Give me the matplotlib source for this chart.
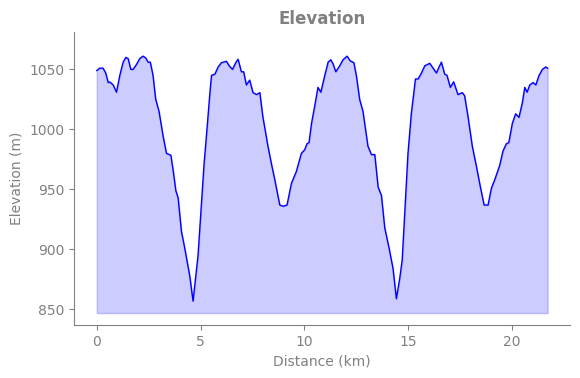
import matplotlib.pyplot as plt
import numpy as np

# distance (km) and elevation (m)
distance = [0.0, 0.14, 0.3, 0.43, 0.55, 0.63, 0.79, 0.95, 1.11, 1.27, 1.4, 1.51, 1.64, 1.75,
            1.91, 2.07, 2.23, 2.36, 2.47, 2.58, 2.71, 2.84, 3.0, 3.2, 3.36, 3.57, 3.68, 3.81,
            3.92, 4.08, 4.24, 4.48, 4.64, 4.88, 5.05, 5.17, 5.32, 5.45, 5.53, 5.69, 5.85,
            6.01, 6.25, 6.38, 6.54, 6.7, 6.81, 6.97, 7.08, 7.21, 7.37, 7.53, 7.7, 7.86, 8.0,
            8.25, 8.41, 8.58, 8.82, 8.98, 9.17, 9.38, 9.62, 9.86, 10.02, 10.13, 10.23, 10.35,
            10.5, 10.66, 10.8, 10.99, 11.15, 11.28, 11.39, 11.52, 11.71, 11.87, 12.06, 12.22,
            12.39, 12.51, 12.67, 12.83, 13.07, 13.24, 13.4, 13.56, 13.72, 13.88, 14.09, 14.28,
            14.44, 14.6, 14.72, 14.84, 15.0, 15.16, 15.36, 15.49, 15.65, 15.81, 16.05, 16.21,
            16.37, 16.5, 16.61, 16.77, 16.88, 17.04, 17.2, 17.41, 17.62, 17.73, 17.89, 18.1,
            18.3, 18.49, 18.67, 18.86, 19.02, 19.18, 19.42, 19.58, 19.74, 19.86, 20.03, 20.19,
            20.35, 20.51, 20.63, 20.74, 20.87, 21.03, 21.16, 21.32, 21.48, 21.64, 21.73]
elevation = [1049, 1051, 1051, 1047, 1039, 1039.5, 1037, 1031, 1045, 1056, 1060, 1059, 1050, 1050,
             1054, 1059, 1061, 1059.5, 1056, 1056, 1045, 1025, 1015, 994, 980, 978.5, 966, 949,
             943, 915, 901, 878, 857, 895, 940, 971, 1002, 1030, 1045, 1046, 1052,
             1055.6, 1056.7, 1053, 1050, 1055.6, 1058.4, 1048, 1048, 1037, 1041, 1030.6, 1029, 1030.6, 1011,
             986, 972, 958, 937, 936, 937, 955, 965, 980, 983, 988, 989, 1005,
             1019, 1035, 1031, 1045, 1056, 1058, 1054.5, 1048, 1053, 1058, 1061, 1057,
             1055.6, 1045, 1025, 1015, 986, 979, 979, 952, 945, 918, 901, 884,
             859, 875.6, 891, 929, 980, 1013, 1042, 1042, 1047, 1053, 1055, 1051,
             1047, 1052, 1056, 1046, 1045, 1035, 1039.6, 1029, 1030.6, 1028, 1011, 986,
             969, 952, 937, 937, 951, 958, 970, 982, 988, 989, 1005, 1013,
             1010, 1022, 1035, 1031, 1037, 1039, 1037, 1045, 1050, 1052, 1051]

x = np.array(distance)
y = np.array(elevation)
base = y.min() - 10

fig = plt.figure(figsize=(5.8, 3.78), dpi=100)
ax = fig.add_axes([0.128, 0.14, 0.855, 0.775])

ax.plot(x, y, color='blue', lw=1)
ax.fill_between(x, y, base, color='blue', alpha=0.2)

ax.set_ylim(y.min() - 20, y.max() + 20)
ax.set_title('Elevation', color='gray', fontsize=12, fontweight='bold')
ax.set_xlabel('Distance (km)', color='gray')
ax.set_ylabel('Elevation (m)', color='gray')
ax.tick_params(colors='gray')
for s in ['top', 'right']:
    ax.spines[s].set_visible(False)
for s in ['left', 'bottom']:
    ax.spines[s].set_color('gray')

plt.savefig('out.png', dpi=100)
